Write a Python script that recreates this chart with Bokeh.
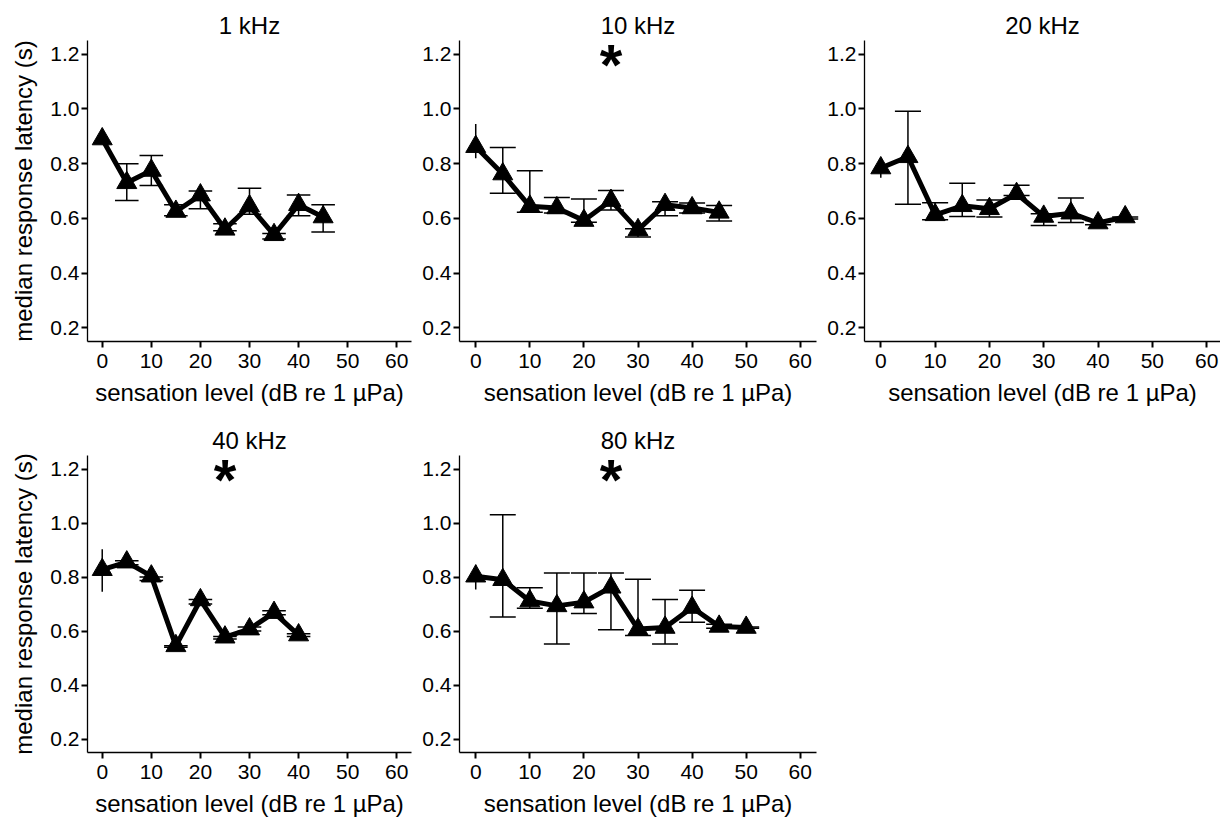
from bokeh.plotting import figure
from bokeh.layouts import column, row
from bokeh.models import Range1d, FixedTicker, PrintfTickFormatter, ColumnDataSource
from bokeh.core.properties import value
from bokeh.embed import file_html
from bokeh.resources import INLINE

nan = float("nan")

# ---------------- data ----------------
titles = ["1 kHz", "10 kHz", "20 kHz", "40 kHz", "80 kHz"]

level_1k = [0, 5, 10, 15, 20, 25, 30, 35, 40, 45]
lat_1k = [0.89, 0.73, 0.775, 0.625, 0.685, 0.56, 0.645, 0.54, 0.65, 0.605]
lo_1k = [nan, 0.665, 0.72, 0.61, 0.635, 0.555, 0.615, 0.525, 0.61, 0.55]
hi_1k = [nan, 0.80, 0.83, 0.65, 0.70, 0.58, 0.71, 0.545, 0.685, 0.65]

level_10k = [0, 5, 10, 15, 20, 25, 30, 35, 40, 45]
lat_10k = [0.862, 0.762, 0.644, 0.638, 0.592, 0.665, 0.558, 0.65, 0.638, 0.622]
lo_10k = [0.82, 0.692, 0.622, 0.62, 0.586, 0.631, 0.532, 0.61, 0.62, 0.59]
hi_10k = [0.945, 0.859, 0.774, 0.676, 0.671, 0.702, 0.562, 0.661, 0.656, 0.647]

level_20k = [0, 5, 10, 15, 20, 25, 30, 35, 40, 45]
lat_20k = [0.784, 0.825, 0.613, 0.646, 0.635, 0.69, 0.607, 0.619, 0.583, 0.605]
lo_20k = [0.748, 0.652, 0.595, 0.607, 0.605, 0.684, 0.574, 0.585, 0.577, 0.598]
hi_20k = [0.79, 0.991, 0.657, 0.728, 0.667, 0.721, 0.617, 0.674, 0.592, 0.605]

level_40k = [0, 5, 10, 15, 20, 25, 30, 35, 40]
lat_40k = [0.827, 0.855, 0.803, 0.545, 0.715, 0.577, 0.607, 0.668, 0.585]
lo_40k = [0.745, 0.845, 0.787, 0.54, 0.70, 0.57, 0.60, 0.66, 0.58]
hi_40k = [0.903, 0.86, 0.80, 0.545, 0.717, 0.58, 0.615, 0.675, 0.59]

level_80k = [0, 5, 10, 15, 20, 25, 30, 35, 40, 45, 50]
lat_80k = [0.803, 0.79, 0.711, 0.693, 0.707, 0.762, 0.607, 0.613, 0.687, 0.617, 0.613]
lo_80k = [0.754, 0.652, 0.684, 0.552, 0.665, 0.605, 0.583, 0.552, 0.632, 0.61, 0.61]
hi_80k = [0.845, 1.031, 0.76, 0.815, 0.815, 0.815, 0.792, 0.717, 0.751, 0.625, 0.615]

star_x = [None, 25, None, 25, 25]
star_y = 1.19

x_ticks = [0, 10, 20, 30, 40, 50, 60]
y_ticks = [0.2, 0.4, 0.6, 0.8, 1.0, 1.2]
x_title = "sensation level (dB re 1 µPa)"
y_title = "median response latency (s)"

# ---------------- style ----------------
FONT = "Liberation Sans"
CAP = 2.4  # half-width of error-bar caps (data units)


def make_panel(title, xs, ys, lo, hi, sx, width, height, bl, br, bt, bb,
               show_ylabel, x_end=63):
    p = figure(width=width, height=height,
               x_range=Range1d(-3, x_end), y_range=Range1d(0.15, 1.25),
               output_backend="svg", toolbar_location=None,
               min_border_left=bl, min_border_right=br,
               min_border_top=bt, min_border_bottom=bb)
    p.title.text = title
    p.title.align = "center"
    p.title.text_font = FONT
    p.title.text_font_size = "24px"
    p.title.text_font_style = "normal"
    p.title.text_color = "black"
    p.title.standoff = 4
    p.outline_line_color = None
    p.xgrid.visible = False
    p.ygrid.visible = False
    for ax in (p.xaxis[0], p.yaxis[0]):
        ax.axis_line_color = "black"
        ax.axis_line_width = 1.3
        ax.major_tick_line_color = "black"
        ax.major_tick_line_width = 2
        ax.major_tick_out = 6
        ax.major_tick_in = 0
        ax.minor_tick_line_color = None
        ax.major_label_text_font = FONT
        ax.major_label_text_font_size = "21px"
        ax.major_label_text_color = "black"
        ax.axis_label_text_font = FONT
        ax.axis_label_text_font_size = "24px"
        ax.axis_label_text_font_style = "normal"
        ax.axis_label_text_color = "black"
    p.xaxis.ticker = FixedTicker(ticks=x_ticks)
    p.yaxis.ticker = FixedTicker(ticks=y_ticks)
    p.xaxis.formatter = PrintfTickFormatter(format="%d")
    p.yaxis.formatter = PrintfTickFormatter(format="%.1f")
    p.xaxis.major_label_standoff = 6
    p.yaxis.major_label_standoff = 2
    p.xaxis.axis_label = x_title
    p.xaxis.axis_label_standoff = 8
    if show_ylabel:
        p.yaxis.axis_label = y_title
        p.yaxis.axis_label_standoff = 10

    src = ColumnDataSource(dict(x=xs, y=ys, lo=lo, hi=hi))
    keep = [i for i in range(len(xs)) if xs[i] > 0]
    cap_src = ColumnDataSource(dict(
        xl=[xs[i] - CAP for i in keep], xr=[xs[i] + CAP for i in keep],
        lo=[lo[i] for i in keep], hi=[hi[i] for i in keep]))
    p.segment(x0="x", y0="lo", x1="x", y1="hi", source=src,
              line_color="black", line_width=1.5)
    p.segment(x0="xl", y0="lo", x1="xr", y1="lo", source=cap_src,
              line_color="black", line_width=1.5)
    p.segment(x0="xl", y0="hi", x1="xr", y1="hi", source=cap_src,
              line_color="black", line_width=1.5)
    p.line(x="x", y="y", source=src, line_color="black", line_width=5)
    p.scatter(x="x", y="y", source=src, marker="triangle", size=20,
              fill_color="black", line_color="black")
    if sx is not None:
        p.text(x=[sx], y=[star_y], text=["*"], text_font=value(FONT),
               text_font_style="bold", text_font_size="58px",
               text_align="center", text_baseline="middle",
               text_color="black", y_offset=8)
    return p


H1, H2 = 415, 404
p1 = make_panel(titles[0], level_1k, lat_1k, lo_1k, hi_1k, star_x[0], 414, H1, 87, 3, 40, 74, True)
p2 = make_panel(titles[1], level_10k, lat_10k, lo_10k, hi_10k, star_x[1], 406, H1, 45, 4, 40, 74, False)
p3 = make_panel(titles[2], level_20k, lat_20k, lo_20k, hi_20k, star_x[2], 400, H1, 44, 0, 40, 74, False, x_end=62.55)
p4 = make_panel(titles[3], level_40k, lat_40k, lo_40k, hi_40k, star_x[3], 414, H2, 87, 3, 40, 63, True)
p5 = make_panel(titles[4], level_80k, lat_80k, lo_80k, hi_80k, star_x[4], 406, H2, 45, 4, 40, 63, False)

layout = column(row(p1, p2, p3), row(p4, p5))

open("out.html", "w").write(file_html(layout, INLINE))
